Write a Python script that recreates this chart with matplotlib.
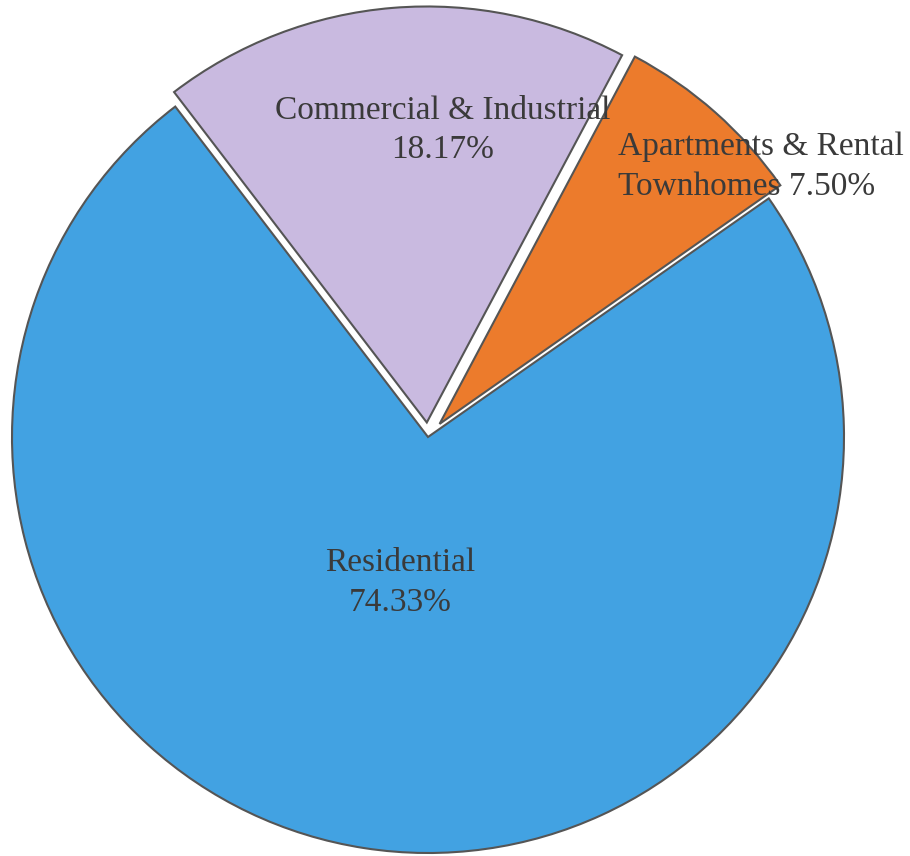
import matplotlib.pyplot as plt

categories = ['Residential', 'Commercial & Industrial', 'Apartments & Rental\nTownhomes']
shares = [74.33, 18.17, 7.50]
colors = ['#42A2E2', '#C9BAE0', '#EC7B2C']

plt.rcParams['font.family'] = ['Liberation Serif', 'DejaVu Serif']

fig = plt.figure(figsize=(9.1, 8.56), dpi=100)
ax = fig.add_axes([0, 0, 1, 1])

wedges, _ = ax.pie(shares, colors=colors, startangle=35, counterclock=False,
                   explode=[0, 0.035, 0.042],
                   wedgeprops=dict(edgecolor='#555555', linewidth=1.5))

# pie centre sits at (428, 437) px with radius 416 px
ax.set_xlim(-428 / 416, (910 - 428) / 416)
ax.set_ylim(-(856 - 437) / 416, 437 / 416)
ax.set_aspect('auto')
ax.axis('off')

txt = dict(fontsize=24, color='#3a3a3a', linespacing=1.38)
ax.text(0.036, 0.738, f'{categories[1]}\n{shares[1]:.2f}%', ha='center', va='center', **txt)
ax.text(0.457, 0.65, f'{categories[2]} {shares[2]:.2f}%', ha='left', va='center', **txt)
ax.text(-0.067, -0.35, f'{categories[0]}\n{shares[0]:.2f}%', ha='center', va='center', **txt)

plt.savefig('out.png', dpi=100)
